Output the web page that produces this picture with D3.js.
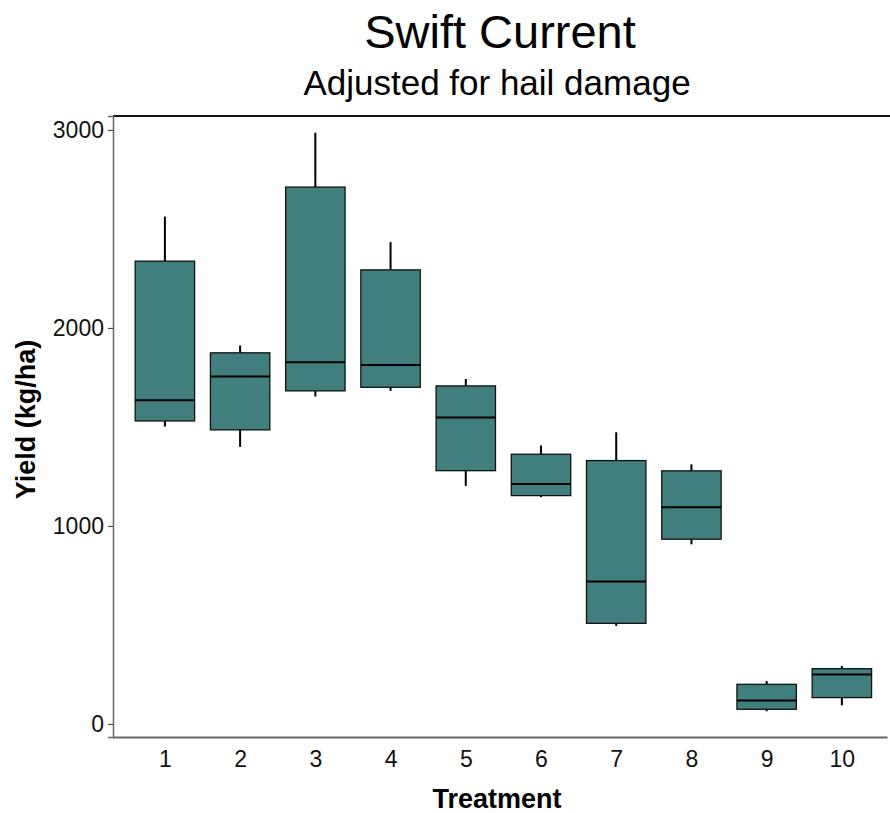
<!DOCTYPE html>
<html>
<head>
<meta charset="utf-8">
<script src="https://cdn.jsdelivr.net/npm/d3@7"></script>
<style>
  body { margin: 0; background: #fff; }
  text { font-family: "Liberation Sans", Arial, sans-serif; }
</style>
</head>
<body>
<div id="chart"></div>
<script>
// box plot of yield by treatment

var treatments = [1, 2, 3, 4, 5, 6, 7, 8, 9, 10];
var whiskerLow  = [1502, 1399, 1653, 1682, 1202, 1145, 495, 907, 64, 94];
var q1          = [1530, 1485, 1682, 1700, 1279, 1153, 508, 933, 74, 133];
var median      = [1635, 1754, 1827, 1813, 1547, 1211, 719, 1094, 118, 249];
var q3          = [2337, 1874, 2711, 2293, 1707, 1362, 1330, 1278, 200, 279];
var whiskerHigh = [2562, 1911, 2986, 2433, 1742, 1406, 1473, 1311, 217, 293];
var yTicks = [0, 1000, 2000, 3000];

var svgWidth = 890;
var svgHeight = 813;

var margin = { top: 116, left: 113, right: 3, bottom: 76 };
var width = svgWidth - margin.left - margin.right;
var height = svgHeight - margin.top - margin.bottom;

var boxes = treatments.map(function (t, i) {
  return { t: t, lo: whiskerLow[i], q1: q1[i], med: median[i], q3: q3[i], hi: whiskerHigh[i] };
});

var svg = d3.select('#chart')
  .append('svg')
  .attr('width', svgWidth)
  .attr('height', svgHeight);

var chartGroup = svg.append('g')
  .attr('transform', `translate(${margin.left}, ${margin.top})`);

// scales
var xScale = d3.scaleLinear()
  .domain([0.31, 10.6])
  .range([0, width]);

var yScale = d3.scaleLinear()
  .domain([-66, 3070])
  .range([height, 0]);

var boxWidth = (xScale(2) - xScale(1)) * 0.79;

// top border
chartGroup.append('line')
  .attr('x1', 0).attr('x2', width + 10)
  .attr('y1', 0).attr('y2', 0)
  .attr('stroke', '#111')
  .attr('stroke-width', 2);

// whiskers
chartGroup.selectAll('.whisker')
  .data(boxes)
  .enter()
  .append('line')
  .attr('class', 'whisker')
  .attr('x1', d => xScale(d.t))
  .attr('x2', d => xScale(d.t))
  .attr('y1', d => yScale(d.lo))
  .attr('y2', d => yScale(d.hi))
  .attr('stroke', '#000')
  .attr('stroke-width', 2);

// boxes
chartGroup.selectAll('.box')
  .data(boxes)
  .enter()
  .append('rect')
  .attr('class', 'box')
  .attr('x', d => xScale(d.t) - boxWidth / 2)
  .attr('width', boxWidth)
  .attr('y', d => yScale(d.q3))
  .attr('height', d => yScale(d.q1) - yScale(d.q3))
  .attr('fill', '#417f7e')
  .attr('stroke', '#111')
  .attr('stroke-width', 1.3);

// medians
chartGroup.selectAll('.median')
  .data(boxes)
  .enter()
  .append('line')
  .attr('class', 'median')
  .attr('x1', d => xScale(d.t) - boxWidth / 2)
  .attr('x2', d => xScale(d.t) + boxWidth / 2)
  .attr('y1', d => yScale(d.med))
  .attr('y2', d => yScale(d.med))
  .attr('stroke', '#000')
  .attr('stroke-width', 2);

// axes
var bottomAxis = d3.axisBottom(xScale)
  .tickValues(treatments)
  .tickSize(0)
  .tickPadding(14)
  .tickFormat(d3.format('d'));

var leftAxis = d3.axisLeft(yScale)
  .tickValues(yTicks)
  .tickSize(5)
  .tickPadding(4)
  .tickFormat(d3.format('d'));

var xAxis = chartGroup.append('g')
  .attr('transform', `translate(0, ${height})`)
  .call(bottomAxis);

var yAxis = chartGroup.append('g')
  .call(leftAxis);

xAxis.select('.domain').attr('stroke', '#666').attr('stroke-width', 2);
yAxis.select('.domain').attr('stroke', '#666').attr('stroke-width', 1.5);
yAxis.selectAll('.tick line').attr('stroke', '#333');

chartGroup.selectAll('.tick text')
  .attr('fill', '#111')
  .style('font-size', '23px');

// axis titles
chartGroup.append('text')
  .attr('x', width / 2 - 113 - 3 + 113)
  .attr('y', height + 71)
  .attr('text-anchor', 'middle')
  .style('font-size', '27px')
  .style('font-weight', 'bold')
  .text('Treatment');

chartGroup.append('text')
  .attr('transform', 'rotate(-90)')
  .attr('x', -(height / 2) + 7)
  .attr('y', -78)
  .attr('text-anchor', 'middle')
  .style('font-size', '27px')
  .style('font-weight', 'bold')
  .text('Yield (kg/ha)');

// titles
svg.append('text')
  .attr('x', margin.left + 387)
  .attr('y', 48)
  .attr('text-anchor', 'middle')
  .style('font-size', '47px')
  .text('Swift Current');

svg.append('text')
  .attr('x', margin.left + 384)
  .attr('y', 95)
  .attr('text-anchor', 'middle')
  .style('font-size', '35px')
  .text('Adjusted for hail damage');
</script>
</body>
</html>
